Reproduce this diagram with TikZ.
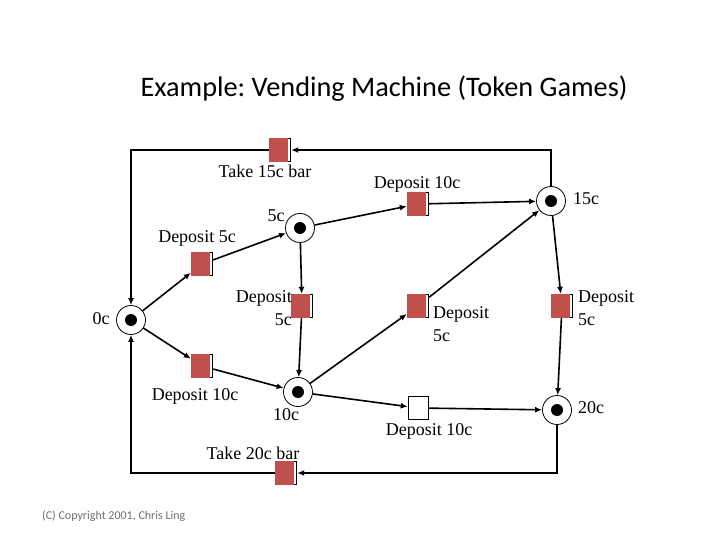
\documentclass[tikz,border=0pt]{standalone}
\usepackage{fontspec}
\setmainfont{Liberation Serif}
\newfontfamily\titlefont{Carlito}
\usepackage{tikz}
\usetikzlibrary{arrows.meta, positioning}
\usepackage{xcolor}
\definecolor{tokred}{RGB}{192,80,77}
\definecolor{copygray}{RGB}{110,110,110}
\frenchspacing
\tikzset{
    % Places
    pnode/.style={circle, draw=black, line width=0.8pt, fill=white,
                 minimum size=29pt, inner sep=0pt,
                 path picture={\fill[black] (path picture bounding box.center) circle (6pt);}},
    plbl/.style={font=\fontsize{18}{22.5}\selectfont, anchor=base, inner sep=0pt},
    % Transitions
    tnode/.style={rectangle, fill=white, minimum width=22pt, minimum height=24pt, inner sep=0pt,
                 path picture={\fill[tokred] (path picture bounding box.south west)
                     rectangle ([xshift=-3pt]path picture bounding box.north east);
                   \draw[line width=0.7pt] ([xshift=-3pt, yshift=0.35pt]path picture bounding box.south east)
                     -- ([xshift=-0.35pt, yshift=0.35pt]path picture bounding box.south east)
                     -- ([xshift=-0.35pt, yshift=-0.35pt]path picture bounding box.north east)
                     -- ([xshift=-3pt, yshift=-0.35pt]path picture bounding box.north east);}},
    wnode/.style={rectangle, draw=black, line width=0.6pt, fill=white,
                 minimum width=20pt, minimum height=23pt, inner sep=0pt},
    tlbl/.style={font=\fontsize{18}{22.5}\selectfont, anchor=base, inner sep=0pt},
    % Arcs
    parrow/.style={-{Latex[length=7pt, width=6pt]}, line width=1.6pt, black},
}

\begin{document}
\begin{tikzpicture}[x=1pt, y=-1pt]
\useasboundingbox (0,0) rectangle (720,540);
\node[font=\titlefont\fontsize{28.3}{34}\selectfont, anchor=base] (title) at (384,97) {Example: Vending Machine (Token Games)};
% places
\node[pnode] (p0)  at (131,320) {};
\node[pnode] (p5)  at (300,228) {};
\node[pnode] (p10) at (298,392) {};
\node[pnode] (p15) at (551,201) {};
\node[pnode] (p20) at (557,410) {};
\node[plbl] (l0)  at (101,324) {0c};
\node[plbl] (l5)  at (276,222) {5c};
\node[plbl] (l10) at (286,420) {10c};
\node[plbl] (l15) at (586,205) {15c};
\node[plbl] (l20) at (591,413) {20c};
% transitions
\node[tnode] (t15)  at (280,150) {};
\node[tnode] (d5a)  at (202,264) {};
\node[tnode] (d10a) at (202,366) {};
\node[tnode] (d5b)  at (302,306) {};
\node[tnode] (d10b) at (418,204) {};
\node[tnode] (d5c)  at (418,306) {};
\node[tnode] (d5d)  at (562,306) {};
\node[wnode] (d10c) at (418,408) {};
\node[tnode] (t20)  at (286,473) {};
\node[tlbl] (lt15)  at (265,178) {Take 15c bar};
\node[tlbl] (ld5a)  at (197,243) {Deposit 5c};
\node[tlbl] (ld10a) at (195,400) {Deposit 10c};
\node[tlbl, anchor=base east, align=right] (ld5b) at (292,325) {Deposit\\5c};
\node[tlbl] (ld10b) at (417,189) {Deposit 10c};
\node[tlbl, anchor=base west, align=left] (ld5c) at (433,341) {Deposit\\5c};
\node[tlbl, anchor=base west, align=left] (ld5d) at (578,325) {Deposit\\5c};
\node[tlbl] (ld10c) at (429,435) {Deposit 10c};
\node[tlbl] (lt20)  at (253,459) {Take 20c bar};
% arcs
\draw[parrow] (p0) -- (d5a);
\draw[parrow] (d5a) -- (p5);
\draw[parrow] (p0) -- (d10a);
\draw[parrow] (d10a) -- (p10);
\draw[parrow] (p5) -- (d5b);
\draw[parrow] (d5b) -- (p10);
\draw[parrow] (p5) -- (d10b);
\draw[parrow] (d10b) -- (p15);
\draw[parrow] (p10) -- (d5c);
\draw[parrow] (d5c) -- (p15);
\draw[parrow] (p15) -- (d5d);
\draw[parrow] (d5d) -- (p20);
\draw[parrow] (p10) -- (d10c);
\draw[parrow] (d10c) -- (p20);
\draw[parrow] (p15.north) |- (t15);
\draw[parrow] (t15) -| (p0);
\draw[parrow] (p20) |- (t20);
\draw[parrow] (t20) -| (p0);
\node[font=\titlefont\fontsize{12}{14}\selectfont, text=copygray, anchor=base west, inner sep=0pt] (copy) at (42,519) {(C) Copyright 2001, Chris Ling};
\end{tikzpicture}
\end{document}
